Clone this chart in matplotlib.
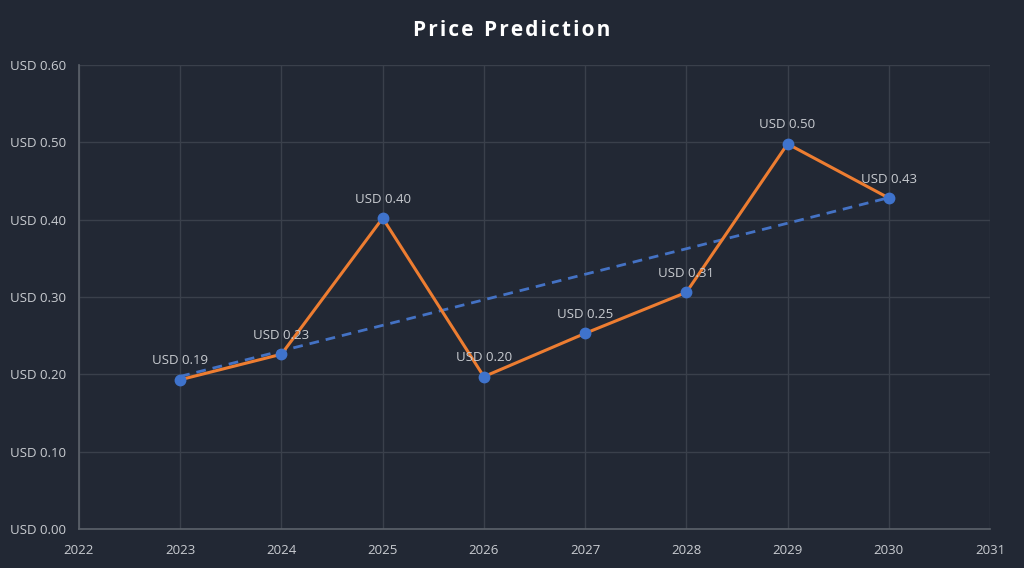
import numpy as np
import matplotlib
matplotlib.use("Agg")
import matplotlib.pyplot as plt

plt.rcParams['font.family'] = ['Open Sans', 'DejaVu Sans']

# Data
years = [2023, 2024, 2025, 2026, 2027, 2028, 2029, 2030]
prices = [0.193, 0.226, 0.402, 0.197, 0.253, 0.306, 0.498, 0.428]
labels = ["USD 0.19", "USD 0.23", "USD 0.40", "USD 0.20",
          "USD 0.25", "USD 0.31", "USD 0.50", "USD 0.43"]
x_ticks = list(range(2022, 2032))
y_ticks = [0.0, 0.1, 0.2, 0.3, 0.4, 0.5, 0.6]

bg = "#222834"
text_col = "#c9ccd1"

fig = plt.figure(figsize=(10.24, 5.68), dpi=100, facecolor=bg)
ax = fig.add_axes([79 / 1024, 1 - 529 / 568, 911 / 1024, 464 / 568])
ax.set_facecolor(bg)

# Trend line (linear fit)
coef = np.polyfit(years, prices, 1)
trend = np.polyval(coef, years)
ax.plot(years, trend, color="#4472C4", linestyle=(0, (3.5, 2.5)), linewidth=2, zorder=2)

# Price line
ax.plot(years, prices, color="#ED7D31", linewidth=2.2, zorder=3)
ax.plot(years, prices, linestyle="none", marker="o", markersize=7.5,
        color="#3f73cc", zorder=4)

for x, y, t in zip(years, prices, labels):
    ax.annotate(t, (x, y), xytext=(0, 9), textcoords="offset points",
                ha="center", va="bottom", color=text_col, fontsize=9.5, zorder=5)

ax.set_xlim(2022, 2031)
ax.set_ylim(0, 0.6)
ax.set_xticks(x_ticks)
ax.set_yticks(y_ticks)
ax.set_yticklabels(["USD %.2f" % v for v in y_ticks])
ax.tick_params(colors=text_col, labelsize=9.5, length=0)
ax.tick_params(axis="x", pad=11)
ax.tick_params(axis="y", pad=9)
ax.grid(True, color="#3a404b", linewidth=1)
ax.set_axisbelow(True)

for s in ["top", "right"]:
    ax.spines[s].set_visible(False)
for s in ["left", "bottom"]:
    ax.spines[s].set_color("#5c626b")
    ax.spines[s].set_linewidth(1.2)

fig.text(0.5, 1 - 31 / 568, "P r i c e   P r e d i c t i o n".replace("   ", "\u2002").replace(" ", "\u200a"),
         ha="center", va="center", color="white", fontsize=15, fontweight="bold")

fig.savefig("out.png", dpi=100, facecolor=bg)
